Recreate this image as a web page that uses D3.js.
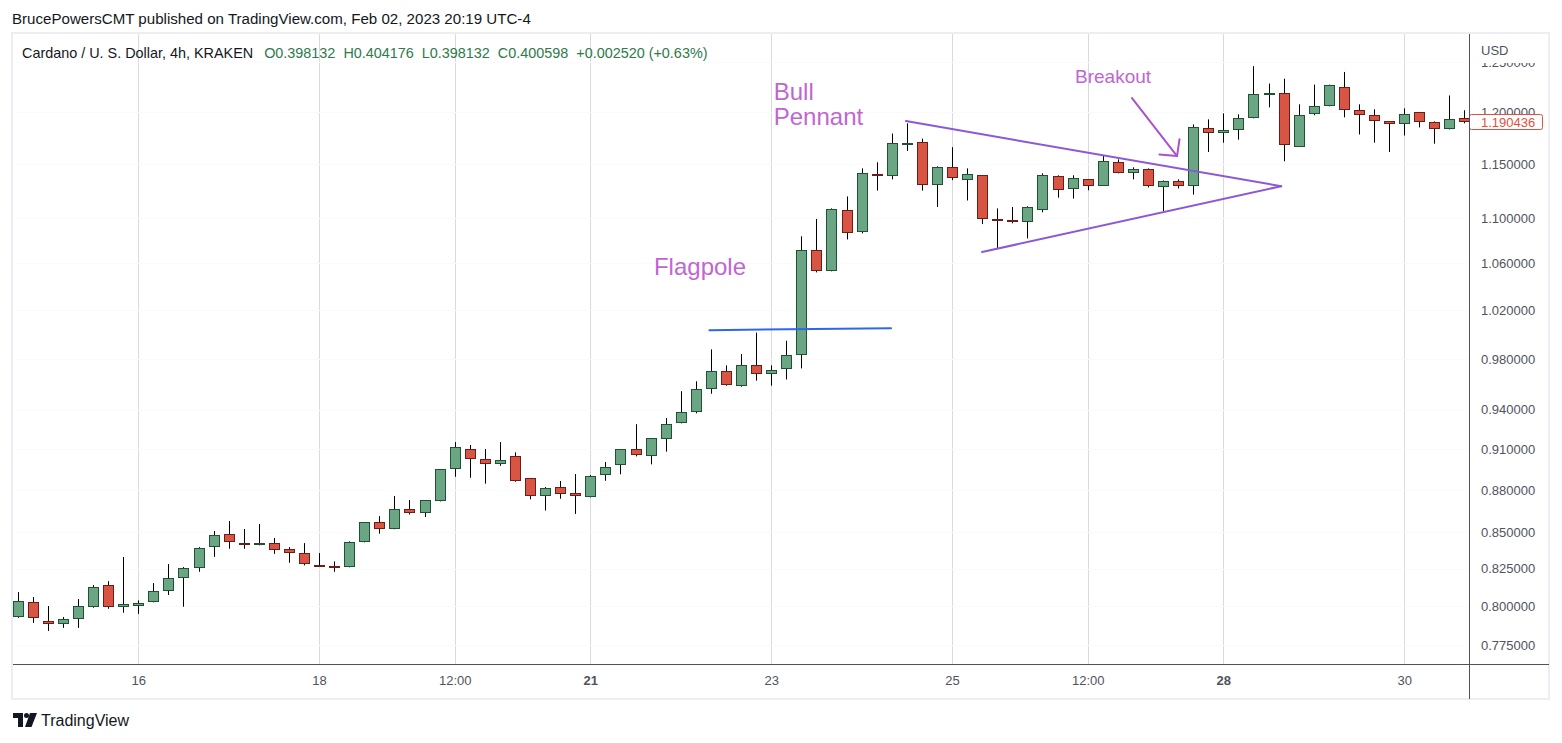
<!DOCTYPE html>
<html><head><meta charset="utf-8">
<script src="https://cdn.jsdelivr.net/npm/d3@7"></script>
<style>
html,body{margin:0;padding:0;background:#fff;}
svg{display:block;font-family:"Liberation Sans",Arial,sans-serif;}
</style></head>
<body><svg id="c" width="1562" height="743"></svg>
<script>
// ---------- DATA ----------
const startTime = "2023-01-14T16:00:00Z";   // first 4h candle
const candleHours = 4;
const opens = [0.7932,0.8026,0.7902,0.7882,0.7915,0.7997,0.8138,0.7993,0.8000,0.8026,
0.8104,0.8185,0.8253,0.8396,0.8487,0.8424,0.8410,0.8424,0.8382,0.8361,
0.8273,0.8267,0.8260,0.8431,0.8571,0.8522,0.8662,0.8640,0.8719,0.8951,
0.9100,0.9025,0.8988,0.9047,0.8885,0.8756,0.8820,0.8777,0.8748,0.8907,
0.8980,0.9100,0.9047,0.9174,0.9295,0.9380,0.9563,0.9700,0.9587,0.9748,
0.9676,0.9716,0.9829,1.0712,1.0530,1.1070,1.0872,1.1402,1.1383,1.1692,
1.1712,1.1307,1.1468,1.1348,1.1393,1.0989,1.0980,1.0962,1.1070,1.1383,
1.1270,1.1355,1.1298,1.1515,1.1411,1.1449,1.1280,1.1336,1.1289,1.1840,
1.1800,1.1820,1.1938,1.2174,1.2184,1.1662,1.1977,1.2056,1.2253,1.2017,
1.1968,1.1908,1.1879,1.1997,1.1899,1.1830,1.1938];
const highs = [0.8094,0.8061,0.8002,0.7930,0.8048,0.8140,0.8167,0.8330,0.8039,0.8154,
0.8282,0.8262,0.8398,0.8510,0.8580,0.8524,0.8559,0.8461,0.8398,0.8426,
0.8357,0.8300,0.8438,0.8571,0.8614,0.8758,0.8729,0.8727,0.8951,0.9154,
0.9132,0.9102,0.9154,0.9077,0.8885,0.8823,0.8866,0.8917,0.8910,0.9005,
0.9100,0.9289,0.9182,0.9336,0.9544,0.9622,0.9877,0.9748,0.9839,1.0014,
0.9748,0.9947,1.0837,1.0992,1.1088,1.1197,1.1458,1.1515,1.1790,1.1889,
1.1741,1.1477,1.1659,1.1458,1.1393,1.1088,1.1100,1.1107,1.1411,1.1393,
1.1393,1.1355,1.1581,1.1543,1.1468,1.1458,1.1345,1.1355,1.1879,1.1928,
1.1987,1.1977,1.2460,1.2283,1.2332,1.2076,1.2273,1.2273,1.2401,1.2076,
1.2027,1.1908,1.2036,1.1997,1.1908,1.2164,1.2017];
const lows = [0.7925,0.7892,0.7840,0.7860,0.7860,0.7991,0.7984,0.7958,0.7951,0.8026,
0.8075,0.7997,0.8230,0.8331,0.8387,0.8387,0.8410,0.8352,0.8291,0.8273,
0.8267,0.8230,0.8260,0.8431,0.8491,0.8522,0.8626,0.8608,0.8719,0.8897,
0.8890,0.8847,0.8977,0.8861,0.8734,0.8654,0.8738,0.8630,0.8748,0.8868,
0.8915,0.9047,0.8988,0.9082,0.9295,0.9372,0.9524,0.9587,0.9579,0.9627,
0.9587,0.9636,0.9724,1.0521,1.0530,1.0809,1.0863,1.1251,1.1355,1.1623,
1.1251,1.1101,1.1348,1.1160,1.0946,1.0730,1.0953,1.0818,1.1052,1.1186,
1.1177,1.1254,1.1298,1.1411,1.1355,1.1280,1.1064,1.1270,1.1214,1.1613,
1.1702,1.1731,1.1938,1.2046,1.1525,1.1662,1.1968,1.2056,1.1948,1.1781,
1.1702,1.1613,1.1771,1.1849,1.1692,1.1830,1.1889];
const closes = [0.8033,0.7921,0.7882,0.7915,0.8000,0.8131,0.7997,0.8013,0.8020,0.8104,
0.8185,0.8253,0.8389,0.8480,0.8431,0.8414,0.8424,0.8375,0.8359,0.8280,
0.8267,0.8257,0.8431,0.8571,0.8522,0.8662,0.8633,0.8727,0.8951,0.9115,
0.9025,0.8988,0.9018,0.8868,0.8756,0.8813,0.8770,0.8756,0.8900,0.8965,
0.9100,0.9055,0.9182,0.9287,0.9380,0.9563,0.9700,0.9595,0.9748,0.9676,
0.9708,0.9829,1.0712,1.0530,1.1079,1.0863,1.1411,1.1383,1.1702,1.1702,
1.1307,1.1468,1.1367,1.1402,1.0989,1.0980,1.0971,1.1098,1.1393,1.1261,
1.1364,1.1298,1.1524,1.1411,1.1449,1.1289,1.1336,1.1289,1.1849,1.1800,
1.1820,1.1938,1.2174,1.2184,1.1682,1.1968,1.2056,1.2273,1.2017,1.1968,
1.1908,1.1879,1.1977,1.1899,1.1830,1.1928,1.190436];
const lastPrice = 1.190436;
const yTicks = [0.775,0.8,0.825,0.85,0.88,0.91,0.94,0.98,1.02,1.06,1.1,1.15,1.2,1.25];
const xTickTimes = ["2023-01-16T00:00:00Z","2023-01-18T00:00:00Z","2023-01-19T12:00:00Z","2023-01-21T00:00:00Z","2023-01-23T00:00:00Z","2023-01-25T00:00:00Z","2023-01-26T12:00:00Z","2023-01-28T00:00:00Z","2023-01-30T00:00:00Z"];
const xTickLabels = ["16","18","12:00","21","23","25","12:00","28","30"];
const xTickBold = [false,false,false,true,false,false,false,true,false];
const xDomain = ["2023-01-14T14:46:00Z","2023-01-30T17:12:00Z"];
const yDomain = [0.76304,1.2793];
// annotations: [candle-index from start, price]
const flagpoleLine = [[45.9,1.0034],[57.95,1.0050]];
const pennantUpper = [[58.94,1.1911],[83.84,1.1292]];
const pennantLower = [[63.99,1.0698],[83.84,1.1292]];
const breakoutArrow = [[73.94,1.2138],[76.93,1.1574]];
const breakoutHead = [[75.76,1.1589],[76.93,1.1574],[77.09,1.1734]];
const labels = [
  {text:"Bull", at:[50.17,1.2118], size:24},
  {text:"Pennant", at:[50.17,1.1872], size:24},
  {text:"Flagpole", at:[42.22,1.0498], size:24},
  {text:"Breakout", at:[70.16,1.2285], size:19}
];
const headerLine = "BrucePowersCMT published on TradingView.com, Feb 02, 2023 20:19 UTC-4";
const symbolText = "Cardano / U. S. Dollar, 4h, KRAKEN";
const ohlcLegend = [["O","0.398132"],["H","0.404176"],["L","0.398132"],["C","0.400598"],["","+0.002520 (+0.63%)"]];

// ---------- CHART ----------
const svg = d3.select("#c");
const W = 1562, H = 743;
const plot = {l:13, t:34, r:1469, b:664};
const t0 = Date.parse(startTime);
const tAt = i => new Date(t0 + i*candleHours*3600e3);
const x = d3.scaleUtc().domain(xDomain.map(d=>new Date(d))).range([plot.l, plot.r]);
const y = d3.scaleLog().domain(yDomain).range([plot.b, plot.t]);

const data = opens.map((o,i)=>({t:tAt(i),o,h:highs[i],l:lows[i],c:closes[i]}));

svg.append("rect").attr("width",W).attr("height",H).attr("fill","#fff");

// header
svg.append("text").attr("x",12).attr("y",24).attr("font-size",15.1).attr("fill","#131722").text(headerLine);

// frame
svg.append("rect").attr("x",12).attr("y",33).attr("width",1537).attr("height",666)
  .attr("fill","none").attr("stroke","#eceef4").attr("stroke-width",2);

svg.append("defs").append("clipPath").attr("id","pc").append("rect")
  .attr("x",plot.l).attr("y",plot.t).attr("width",plot.r-plot.l).attr("height",plot.b-plot.t);
const g = svg.append("g").attr("clip-path","url(#pc)");

// vertical grid
g.selectAll(".vg").data(xTickTimes).join("line")
  .attr("x1",d=>Math.round(x(new Date(d)))+0.5).attr("x2",d=>Math.round(x(new Date(d)))+0.5)
  .attr("y1",plot.t).attr("y2",plot.b).attr("stroke","#d9d9e3").attr("stroke-width",1);
// horizontal grid (very faint)
g.selectAll(".hg").data(yTicks).join("line")
  .attr("x1",plot.l).attr("x2",plot.r)
  .attr("y1",d=>Math.round(y(d))+0.5).attr("y2",d=>Math.round(y(d))+0.5)
  .attr("stroke","#fbfbfd").attr("stroke-width",1);

// candles
const up = {fill:"#6aa684", stroke:"#1f5233"};
const dn = {fill:"#d85443", stroke:"#6e1c17"};
const cg = g.append("g");
data.forEach(d=>{
  const cx = Math.round(x(d.t));
  const isUp = d.c >= d.o;
  const col = isUp ? up : dn;
  cg.append("line").attr("x1",cx+0.5).attr("x2",cx+0.5)
    .attr("y1",y(d.h)).attr("y2",y(d.l)).attr("stroke","#000").attr("stroke-width",1);
  const yt = Math.round(y(Math.max(d.o,d.c)));
  const yb = Math.round(y(Math.min(d.o,d.c)));
  const h = Math.max(yb-yt, 2);
  cg.append("rect").attr("x",cx-5).attr("y",yt).attr("width",11).attr("height",h).attr("fill",col.stroke);
  if (h > 2) cg.append("rect").attr("x",cx-4).attr("y",yt+1).attr("width",9).attr("height",h-2).attr("fill",col.fill);
});

// annotations
const pt = p => [x(tAt(p[0])), y(p[1])];
const line = d3.line();
const ag = g.append("g").attr("fill","none").attr("stroke-linecap","round");
ag.append("path").attr("d",line(flagpoleLine.map(pt))).attr("stroke","#2f66f0").attr("stroke-width",2);
ag.append("path").attr("d",line(pennantUpper.map(pt))).attr("stroke","#8b58d6").attr("stroke-width",2);
ag.append("path").attr("d",line(pennantLower.map(pt))).attr("stroke","#8b58d6").attr("stroke-width",2);
ag.append("path").attr("d",line(breakoutArrow.map(pt))).attr("stroke","#a952c9").attr("stroke-width",2);
ag.append("path").attr("d",line(breakoutHead.map(pt))).attr("stroke","#a952c9").attr("stroke-width",2).attr("stroke-linejoin","round");
g.selectAll(".lbl").data(labels).join("text")
  .attr("x",d=>pt(d.at)[0]).attr("y",d=>pt(d.at)[1])
  .attr("font-size",d=>d.size).attr("fill","#c066d2").text(d=>d.text);

// legend row
const leg = svg.append("text").attr("x",22).attr("y",58).attr("font-size",14.4).attr("fill","#131722");
leg.append("tspan").text(symbolText);
ohlcLegend.forEach((p,i)=>{
  leg.append("tspan").attr("dx", i===0 ? 11 : 8).attr("fill","#2e7a4c").text(p[0] + p[1]);
});

// y axis
const ya = svg.append("g").attr("transform",`translate(${plot.r},0)`)
  .call(d3.axisRight(y).tickValues(yTicks).tickFormat(d3.format(".6f")).tickSize(0).tickPadding(12));
ya.select(".domain").remove();
ya.selectAll("text").attr("font-size",13).attr("fill","#50535e").attr("font-family","Liberation Sans, Arial, sans-serif");
// top mask + USD
svg.append("rect").attr("x",plot.r+1).attr("y",34).attr("width",78).attr("height",29).attr("fill","#fff");
svg.append("text").attr("x",1481).attr("y",55).attr("font-size",13).attr("fill","#50535e").text("USD");

// last price tag
const ly = Math.round(y(lastPrice));
svg.append("rect").attr("x",plot.r+0.5).attr("y",ly-7.5).attr("width",73).attr("height",15).attr("rx",2)
  .attr("fill","#fff").attr("stroke","#e0503e").attr("stroke-width",1);
svg.append("text").attr("x",1481).attr("y",ly+5).attr("font-size",13).attr("fill","#e0503e").text(d3.format(".6f")(lastPrice));

// x axis
const xa = svg.append("g").attr("transform",`translate(0,${plot.b})`)
  .call(d3.axisBottom(x).tickValues(xTickTimes.map(d=>new Date(d))).tickFormat((d,i)=>xTickLabels[i]).tickSize(0).tickPadding(12));
xa.select(".domain").remove();
xa.selectAll("text").attr("font-size",13).attr("fill","#50535e").attr("font-family","Liberation Sans, Arial, sans-serif")
  .attr("font-weight",(d,i)=>xTickBold[i]?"bold":"normal");

// axis lines
svg.append("line").attr("x1",plot.r+0.5).attr("x2",plot.r+0.5).attr("y1",plot.t).attr("y2",699).attr("stroke","#50535e");
svg.append("line").attr("x1",plot.l).attr("x2",1549).attr("y1",plot.b+0.5).attr("y2",plot.b+0.5).attr("stroke","#50535e");

// TradingView logo
const lg = svg.append("g").attr("fill","#131722");
lg.append("path").attr("d","M13,713 H23 V727 H18 V718 H13 Z");
lg.append("circle").attr("cx",26.5).attr("cy",715.5).attr("r",2.5);
lg.append("path").attr("d","M30,713 H37 L31.5,727 H25 Z");
svg.append("text").attr("x",41).attr("y",726).attr("font-size",16).attr("fill","#131722").text("TradingView");
</script>
</body></html>
